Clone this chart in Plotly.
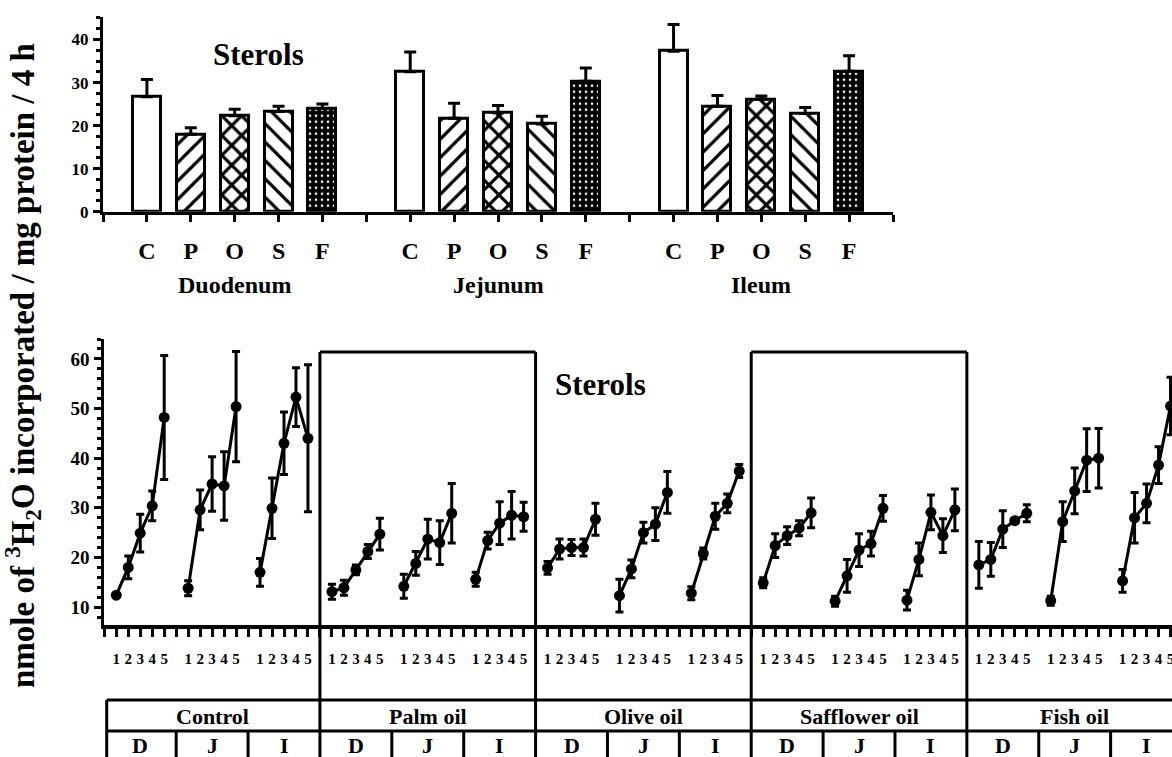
import plotly.graph_objects as go

W, H = 1172, 757
FONT = "Liberation Serif, Times New Roman, serif"

# ---------------- Upper panel data ----------------
regions = ["Duodenum", "Jejunum", "Ileum"]
diet_codes = ["C", "P", "O", "S", "F"]
ctrl_bar = [26.7, 32.5, 37.3]
ctrl_bar_err = [4.0, 4.6, 6.2]
palm_bar = [18.0, 21.7, 24.5]
palm_bar_err = [1.5, 3.5, 2.5]
olive_bar = [22.3, 23.0, 26.1]
olive_bar_err = [1.5, 1.7, 0.8]
saff_bar = [23.3, 20.4, 22.8]
saff_bar_err = [1.2, 1.8, 1.4]
fish_bar = [24.0, 30.3, 32.6]
fish_bar_err = [1.0, 3.1, 3.6]

# ---------------- Lower panel data ----------------
diet_names = ["Control", "Palm oil", "Olive oil", "Safflower oil", "Fish oil"]
segments = ["D", "J", "I"]
time_labels = ["1", "2", "3", "4", "5"]
control_mean = [12.4, 18.0, 24.9, 30.4, 48.2, 13.8, 29.6, 34.8, 34.4, 50.4, 17.0, 29.9, 43.0, 52.3, 44.0]
control_err = [0.3, 2.3, 3.8, 3.0, 12.5, 1.5, 4.0, 5.5, 6.9, 11.1, 2.8, 6.1, 6.3, 5.9, 14.8]
palm_mean = [13.1, 13.9, 17.5, 21.2, 24.7, 14.2, 18.8, 23.7, 23.0, 28.9, 15.6, 23.4, 26.9, 28.5, 28.2]
palm_err = [1.5, 1.5, 1.0, 1.4, 3.2, 2.4, 2.4, 4.0, 4.4, 6.0, 1.4, 1.7, 4.3, 4.8, 2.9]
olive_mean = [17.9, 21.7, 22.0, 22.0, 27.7, 12.3, 17.7, 25.0, 26.7, 33.1, 12.8, 20.8, 28.3, 30.9, 37.4]
olive_err = [1.3, 2.0, 1.6, 1.7, 3.2, 3.3, 1.8, 2.1, 3.3, 4.2, 1.3, 1.1, 2.6, 1.9, 1.3]
saff_mean = [14.9, 22.4, 24.4, 25.9, 29.0, 11.2, 16.3, 21.5, 22.8, 29.9, 11.4, 19.6, 29.1, 24.4, 29.6]
saff_err = [1.0, 2.4, 1.8, 1.5, 3.0, 1.0, 3.3, 3.3, 2.5, 2.6, 2.0, 3.3, 3.5, 3.4, 4.2]
fish_mean = [18.5, 19.6, 25.7, 27.4, 28.9, 11.3, 27.2, 33.4, 39.6, 40.0, 15.3, 28.0, 30.9, 38.6, 50.5]
fish_err = [4.7, 3.4, 3.7, 0.4, 1.7, 0.9, 4.0, 4.6, 6.3, 6.0, 2.3, 5.1, 3.9, 3.7, 5.8]

fig = go.Figure()

# ---------------- Upper bars ----------------
bar_sets = [
    (ctrl_bar, ctrl_bar_err, dict(color="white")),
    (palm_bar, palm_bar_err, dict(color="white", pattern=dict(shape="/", fgcolor="black", bgcolor="white", size=13, solidity=0.25, fillmode="replace"))),
    (olive_bar, olive_bar_err, dict(color="white", pattern=dict(shape="x", fgcolor="black", bgcolor="white", size=14, solidity=0.4, fillmode="replace"))),
    (saff_bar, saff_bar_err, dict(color="white", pattern=dict(shape="\\", fgcolor="black", bgcolor="white", size=13, solidity=0.25, fillmode="replace"))),
    (fish_bar, fish_bar_err, dict(color="black", pattern=dict(shape=".", fgcolor="white", bgcolor="black", size=6, solidity=0.15, fillmode="replace"))),
]
for i, (vals, errs, mk) in enumerate(bar_sets):
    xs = [6 * r + i + 1 for r in range(len(regions))]
    mk = dict(mk)
    mk["line"] = dict(color="black", width=3)
    fig.add_trace(go.Bar(
        x=xs, y=vals, width=0.64, marker=mk,
        error_y=dict(type="data", array=errs, arrayminus=[0] * len(errs), symmetric=False,
                     color="black", thickness=3, width=6),
        xaxis="x", yaxis="y", showlegend=False,
    ))

# ---------------- Lower lines ----------------
all_means = [control_mean, palm_mean, olive_mean, saff_mean, fish_mean]
all_errs = [control_err, palm_err, olive_err, saff_err, fish_err]
for d, (means, errs) in enumerate(zip(all_means, all_errs)):
    for s in range(3):
        xs = [18 * d + 6 * s + k + 1 for k in range(5)]
        fig.add_trace(go.Scatter(
            x=xs, y=means[5 * s:5 * s + 5], mode="lines+markers",
            line=dict(color="black", width=3),
            marker=dict(color="black", size=11),
            error_y=dict(type="data", array=errs[5 * s:5 * s + 5], color="black", thickness=3, width=4),
            xaxis="x2", yaxis="y2", showlegend=False, cliponaxis=False,
        ))

# ---------------- Axes ----------------
def px_x(p):
    return p / W

def px_y(p):
    return 1 - p / H

up_ticks = [6 * r + i + 1 for r in range(3) for i in range(5)]
up_text = [diet_codes[i] for r in range(3) for i in range(5)]

low_ticks = [6 * g + k + 1 for g in range(15) for k in range(5)]
low_text = [time_labels[k] for g in range(15) for k in range(5)]

axis_common = dict(showgrid=False, zeroline=False, showline=True, linecolor="black",
                   ticks="outside", tickcolor="black", automargin=False)

fig.update_layout(
    width=W, height=H, margin=dict(l=0, r=0, t=0, b=0, pad=0, autoexpand=False),
    paper_bgcolor="white", plot_bgcolor="white",
    bargap=0, barmode="overlay", showlegend=False,
    font=dict(family=FONT, color="black", weight="bold"),
    xaxis=dict(domain=[px_x(103), px_x(893)], range=[0, 18], anchor="y",
               tickvals=up_ticks, ticktext=up_text, ticklen=7, tickwidth=3, linewidth=3,
               tickfont=dict(size=24, family=FONT, weight="bold"), ticklabelstandoff=8,
               minor=dict(tickmode="linear", tick0=0, dtick=1, ticks="outside", ticklen=7,
                          tickwidth=3, tickcolor="black", showgrid=False),
               **axis_common),
    yaxis=dict(domain=[px_y(211.7), px_y(16.7)], range=[0, 45.3], anchor="x",
               tickvals=[0, 10, 20, 30, 40], ticklen=7, tickwidth=3, linewidth=3,
               tickfont=dict(size=17, family=FONT, weight="bold"), ticklabelstandoff=1,
               minor=dict(dtick=2.5, tick0=0, ticks="outside", ticklen=4, tickwidth=3, tickcolor="black"),
               **axis_common),
    xaxis2=dict(domain=[px_x(104.3), 1], range=[0, (W - 104.3) / 11.98], anchor="y2",
                tickvals=low_ticks, ticktext=low_text, ticklen=8, tickwidth=3, linewidth=4,
                tickfont=dict(size=15, family=FONT, weight="bold"), ticklabelstandoff=9,
                ticklabeloverflow="allow",
                minor=dict(tickmode="linear", tick0=0, dtick=1, ticks="outside", ticklen=8,
                           tickwidth=3, tickcolor="black", showgrid=False),
                **axis_common),
    yaxis2=dict(domain=[px_y(625), px_y(339)], range=[6.4, 64], anchor="x2",
                tickvals=[10, 20, 30, 40, 50, 60], ticklen=7, tickwidth=3, linewidth=3,
                tickfont=dict(size=19, family=FONT, weight="bold"), ticklabelstandoff=1,
                minor=dict(dtick=2, tick0=0, ticks="outside", ticklen=4, tickwidth=3, tickcolor="black"),
                **axis_common),
)

# ---------------- Shapes: boxes and table ----------------
LW = 3
box_top = px_y(352)
row1 = px_y(700)
row2 = px_y(731)
shapes = []
for b in [18, 36, 54, 72]:
    shapes.append(dict(type="line", xref="x2", yref="paper", x0=b, x1=b, y0=-0.02, y1=box_top,
                       line=dict(color="black", width=LW)))
for a, b in [(18, 36), (54, 72)]:
    shapes.append(dict(type="line", xref="x2", yref="paper", x0=a, x1=b, y0=box_top, y1=box_top,
                       line=dict(color="black", width=LW)))
for yy in [row1, row2]:
    shapes.append(dict(type="line", xref="x2", yref="paper", x0=0.2, x1=92, y0=yy, y1=yy,
                       line=dict(color="black", width=LW)))
shapes.append(dict(type="line", xref="x2", yref="paper", x0=0.2, x1=0.2, y0=-0.02, y1=row1,
                   line=dict(color="black", width=LW)))
for d in range(5):
    for s in [1, 2]:
        xx = 18 * d + 6 * s
        shapes.append(dict(type="line", xref="x2", yref="paper", x0=xx, x1=xx, y0=-0.02, y1=row2,
                           line=dict(color="black", width=LW)))
fig.update_layout(shapes=shapes)

# ---------------- Annotations ----------------
C = dict(showarrow=False, xanchor="center", yanchor="middle")
ann = []
for r, name in enumerate(regions):
    ann.append(dict(x=6 * r + 3, y=px_y(285), xref="x", yref="paper", text=name,
                    font=dict(size=24, family=FONT, weight="bold"), **C))
ann.append(dict(x=3.55, y=px_y(55), xref="x", yref="paper", text="Sterols",
                font=dict(size=31, family=FONT, weight="bold"), **C))
ann.append(dict(x=41.4, y=px_y(384), xref="x2", yref="paper", text="Sterols",
                font=dict(size=31, family=FONT, weight="bold"), **C))
for d, name in enumerate(diet_names):
    ann.append(dict(x=18 * d + 9, y=px_y(716), xref="x2", yref="paper", text=name,
                    font=dict(size=22, family=FONT, weight="bold"), **C))
    for s, seg in enumerate(segments):
        ann.append(dict(x=18 * d + 6 * s + 3, y=px_y(745), xref="x2", yref="paper", text=seg,
                        font=dict(size=22, family=FONT, weight="bold"), **C))
ann.append(dict(x=px_x(22), y=px_y(366), xref="paper", yref="paper", textangle=-90,
                text="nmole of <sup>3</sup>H<sub>2</sub>O incorporated / mg protein / 4 h",
                font=dict(size=33, family=FONT, weight="bold"), **C))
fig.update_layout(annotations=ann)

fig.write_html("out.html")
